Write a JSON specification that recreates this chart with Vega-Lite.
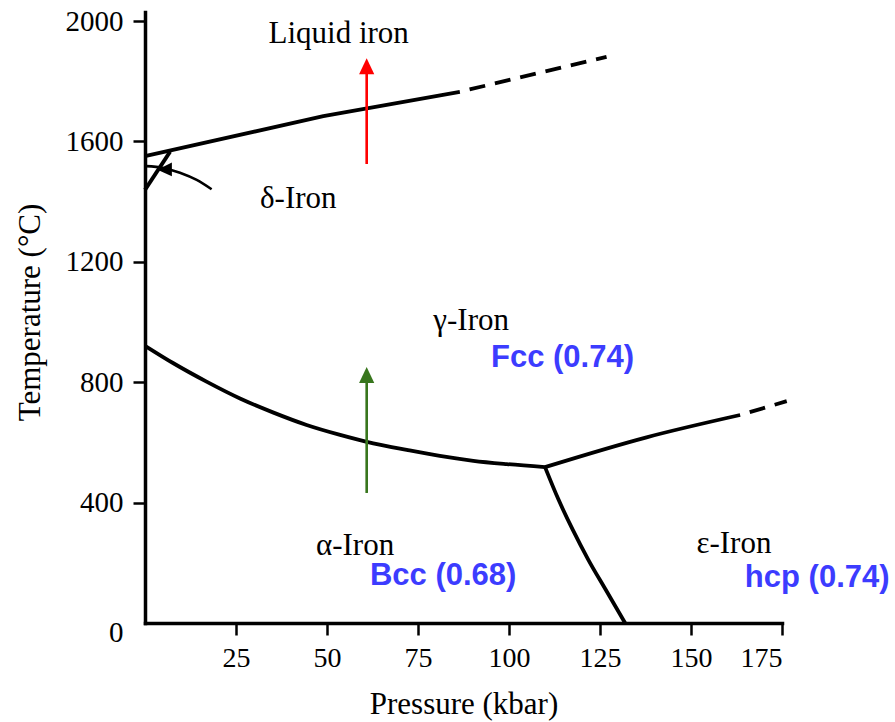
{
  "$schema": "https://vega.github.io/schema/vega-lite/v6.json",
  "width": 637,
  "height": 611,
  "autosize": {"type": "none"},
  "padding": {"left": 145, "top": 12, "right": 113, "bottom": 99},
  "background": "white",
  "config": {"view": {"stroke": null}},
  "datasets": {
    "curves": [
      {"seg": "alphaGamma", "o": 1, "p": 0, "t": 921},
      {"seg": "alphaGamma", "o": 2, "p": 7.8, "t": 863},
      {"seg": "alphaGamma", "o": 3, "p": 16.9, "t": 802},
      {"seg": "alphaGamma", "o": 4, "p": 26.1, "t": 746},
      {"seg": "alphaGamma", "o": 5, "p": 35.3, "t": 699},
      {"seg": "alphaGamma", "o": 6, "p": 44.4, "t": 658},
      {"seg": "alphaGamma", "o": 7, "p": 53.6, "t": 625},
      {"seg": "alphaGamma", "o": 8, "p": 62.7, "t": 597},
      {"seg": "alphaGamma", "o": 9, "p": 71.9, "t": 575},
      {"seg": "alphaGamma", "o": 10, "p": 81.0, "t": 555},
      {"seg": "alphaGamma", "o": 11, "p": 90.2, "t": 539},
      {"seg": "alphaGamma", "o": 12, "p": 99.4, "t": 528},
      {"seg": "alphaGamma", "o": 13, "p": 109.9, "t": 518},
      {"seg": "gammaEpsilon", "o": 1, "p": 109.9, "t": 518},
      {"seg": "gammaEpsilon", "o": 2, "p": 137.8, "t": 617},
      {"seg": "gammaEpsilon", "o": 3, "p": 163.5, "t": 691},
      {"seg": "alphaEpsilon", "o": 1, "p": 109.9, "t": 518},
      {"seg": "alphaEpsilon", "o": 2, "p": 113.6, "t": 410},
      {"seg": "alphaEpsilon", "o": 3, "p": 117.5, "t": 310},
      {"seg": "alphaEpsilon", "o": 4, "p": 121.8, "t": 210},
      {"seg": "alphaEpsilon", "o": 5, "p": 126.5, "t": 112},
      {"seg": "alphaEpsilon", "o": 6, "p": 131.9, "t": 0}
    ],
    "solid": [
      {"seg": "liquid", "o": 1, "p": 0, "t": 1551},
      {"seg": "liquid", "o": 2, "p": 49, "t": 1684},
      {"seg": "liquid", "o": 3, "p": 86.5, "t": 1765},
      {"seg": "deltaGamma", "o": 1, "p": 0, "t": 1439},
      {"seg": "deltaGamma", "o": 2, "p": 6.9, "t": 1566}
    ],
    "dashed": [
      {"seg": "liquidExt", "o": 1, "p": 86.5, "t": 1765},
      {"seg": "liquidExt", "o": 2, "p": 126.8, "t": 1881},
      {"seg": "gammaEpsilonExt", "o": 1, "p": 163.5, "t": 691},
      {"seg": "gammaEpsilonExt", "o": 2, "p": 176.3, "t": 737}
    ],
    "shafts": [
      {"arrow": "melt", "o": 1, "p": 60.9, "t": 1525},
      {"arrow": "melt", "o": 2, "p": 60.9, "t": 1830},
      {"arrow": "transform", "o": 1, "p": 60.9, "t": 432},
      {"arrow": "transform", "o": 2, "p": 60.9, "t": 810},
      {"arrow": "delta", "o": 1, "p": 0.3, "t": 1518},
      {"arrow": "delta", "o": 2, "p": 5.0, "t": 1512},
      {"arrow": "delta", "o": 3, "p": 9.6, "t": 1496},
      {"arrow": "delta", "o": 4, "p": 14.2, "t": 1472},
      {"arrow": "delta", "o": 5, "p": 18.3, "t": 1441}
    ],
    "heads": [
      {"arrow": "melt", "dir": "up", "p": 60.9, "t": 1850},
      {"arrow": "transform", "dir": "up", "p": 60.9, "t": 824},
      {"arrow": "delta", "dir": "left", "p": 5.4, "t": 1507}
    ],
    "phases": [
      {"label": "Liquid iron", "p": 53.2, "t": 1926},
      {"label": "δ-Iron", "p": 42.1, "t": 1378},
      {"label": "γ-Iron", "p": 89.6, "t": 973},
      {"label": "α-Iron", "p": 57.7, "t": 226},
      {"label": "ε-Iron", "p": 161.8, "t": 231}
    ],
    "structures": [
      {"label": "Fcc (0.74)", "p": 95.05, "t": 851},
      {"label": "Bcc (0.68)", "p": 61.8, "t": 126},
      {"label": "hcp (0.74)", "p": 164.8, "t": 120}
    ]
  },
  "encoding": {
    "x": {
      "field": "p",
      "type": "quantitative",
      "scale": {"domain": [0, 175], "nice": false, "zero": false},
      "axis": {
        "title": "Pressure (kbar)",
        "values": [25, 50, 75, 100, 125, 150, 175],
        "format": "d",
        "grid": false,
        "domainColor": "black",
        "domainWidth": 3.5,
        "domainCap": "square",
        "tickColor": "black",
        "tickWidth": 2.5,
        "tickSize": 12,
        "labelFont": "Liberation Serif",
        "labelFontSize": 28,
        "labelColor": "black",
        "labelPadding": 9,
        "titleFont": "Liberation Serif",
        "titleFontSize": 31,
        "titleFontWeight": "normal",
        "titleColor": "black",
        "titleBaseline": "alphabetic",
        "titleY": 90
      }
    },
    "y": {
      "field": "t",
      "type": "quantitative",
      "scale": {"domain": [0, 2030], "nice": false, "zero": false},
      "axis": {
        "title": "Temperature (°C)",
        "values": [0, 400, 800, 1200, 1600, 2000],
        "format": "d",
        "grid": false,
        "domainColor": "black",
        "domainWidth": 3.5,
        "domainCap": "square",
        "tickColor": "black",
        "tickWidth": 2.5,
        "tickSize": 12,
        "tickOpacity": {"condition": {"test": "datum.value === 0", "value": 0}, "value": 1},
        "labelOffset": {"condition": {"test": "datum.value === 0", "value": 9}, "value": 0},
        "labelFont": "Liberation Serif",
        "labelFontSize": 29,
        "labelColor": "black",
        "labelPadding": 10,
        "titleFont": "Liberation Serif",
        "titleFontSize": 31,
        "titleFontWeight": "normal",
        "titleColor": "black",
        "titleAngle": -90,
        "titleBaseline": "alphabetic",
        "titleX": -106,
        "titleY": 300
      }
    }
  },
  "layer": [
    {
      "data": {"name": "curves"},
      "mark": {"type": "line", "color": "black", "strokeWidth": 3.8, "interpolate": "monotone", "strokeCap": "butt"},
      "encoding": {"detail": {"field": "seg"}, "order": {"field": "o", "type": "quantitative"}}
    },
    {
      "data": {"name": "solid"},
      "mark": {"type": "line", "color": "black", "strokeWidth": 3.8, "strokeCap": "butt", "strokeJoin": "round"},
      "encoding": {"detail": {"field": "seg"}, "order": {"field": "o", "type": "quantitative"}}
    },
    {
      "data": {"name": "dashed"},
      "mark": {"type": "line", "color": "black", "strokeWidth": 3.8, "strokeDash": [16, 10], "strokeDashOffset": 16},
      "encoding": {"detail": {"field": "seg"}, "order": {"field": "o", "type": "quantitative"}}
    },
    {
      "data": {"name": "shafts"},
      "mark": {"type": "line", "strokeWidth": 2.6, "interpolate": "monotone"},
      "encoding": {
        "color": {"field": "arrow", "type": "nominal", "scale": {"domain": ["melt", "transform", "delta"], "range": ["#ff0000", "#38761d", "#000000"]}, "legend": null},
        "detail": {"field": "arrow"},
        "order": {"field": "o", "type": "quantitative"}
      }
    },
    {
      "data": {"name": "heads"},
      "mark": {"type": "point", "filled": true, "opacity": 1, "size": 256, "strokeWidth": 0},
      "encoding": {
        "color": {"field": "arrow", "type": "nominal", "legend": null},
        "shape": {"field": "dir", "type": "nominal", "scale": {"domain": ["up", "left"], "range": ["M0,-1L0.95,1L-0.95,1Z", "M-0.9,0.05L0.9,-0.85L0.9,0.85Z"]}, "legend": null}
      }
    },
    {
      "data": {"name": "phases"},
      "mark": {"type": "text", "font": "Liberation Serif", "fontSize": 31, "align": "center", "baseline": "alphabetic", "color": "black"},
      "encoding": {"text": {"field": "label"}}
    },
    {
      "data": {"name": "structures"},
      "mark": {"type": "text", "font": "Liberation Sans", "fontWeight": "bold", "fontSize": 31, "align": "left", "baseline": "alphabetic", "color": "#3c3cff"},
      "encoding": {"text": {"field": "label"}}
    }
  ]
}
